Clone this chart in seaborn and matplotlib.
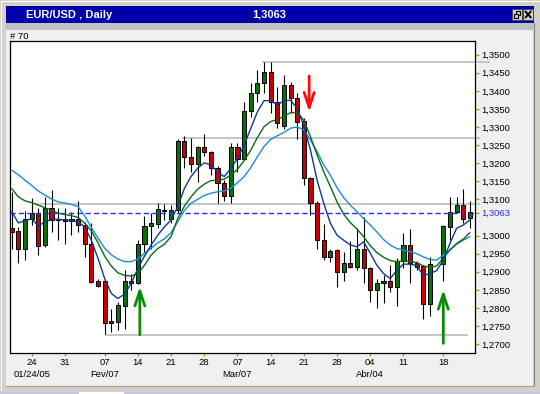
import numpy as np
import pandas as pd
import matplotlib
matplotlib.use("Agg")
import matplotlib.pyplot as plt
import seaborn as sns
from matplotlib.patches import Rectangle
from matplotlib.lines import Line2D

# ---------------- data ----------------
nan = np.nan
opens = np.array([1.3020, 1.3012, 1.2962, 1.3047, 1.3063, 1.2975, 1.3075, 1.3043, 1.3047, 1.3040,
                  1.3047, 1.3029, 1.2976, 1.2874, 1.2874, 1.2757, 1.2762, 1.2806, 1.2874, 1.2868,
                  1.2976, 1.3026, 1.3031, 1.3069, 1.3047, 1.3070, 1.3261, 1.3216, 1.3197, 1.3244,
                  1.3230, 1.3188, 1.3144, 1.3109, 1.3244, 1.3213, 1.3344, 1.3393, 1.3421, 1.3451,
                  1.3368, 1.3303, 1.3416, 1.3379, 1.3317, 1.3158, 1.3089, 1.2987, 1.2940, 1.2960,
                  1.2898, 1.2923, 1.2914, 1.2964, 1.2909, 1.2849, 1.2870, 1.2875, 1.2857, 1.2929,
                  1.2974, 1.2925, 1.2916, 1.2812, nan, 1.2920, 1.3024, 1.3064, 1.3084, 1.3049])
highs = np.array([1.3121, 1.3024, 1.3068, 1.3103, 1.3075, 1.3107, 1.3126, 1.3075, 1.3075, 1.3066,
                  1.3095, 1.3038, 1.3035, 1.2881, 1.2877, 1.2798, 1.2817, 1.2906, 1.2895, 1.2989,
                  1.3054, 1.3063, 1.3089, 1.3086, 1.3084, 1.3266, 1.3275, 1.3271, 1.3247, 1.3280,
                  1.3234, 1.3192, 1.3153, 1.3255, 1.3255, 1.3370, 1.3423, 1.3458, 1.3481, 1.3481,
                  1.3412, 1.3444, 1.3425, 1.3393, 1.3324, 1.3163, 1.3095, 1.3031, 1.2964, 1.2964,
                  1.2955, 1.2985, 1.3020, 1.3052, 1.2914, 1.2881, 1.2891, 1.2918, 1.2937, 1.3006,
                  1.3018, 1.2930, 1.2918, 1.2941, nan, 1.3029, 1.3107, 1.3107, 1.3129, 1.3095])
lows = np.array([1.2964, 1.2923, 1.2933, 1.3029, 1.2946, 1.2967, 1.3011, 1.2987, 1.2976, 1.3001,
                 1.3011, 1.2941, 1.2868, 1.2857, 1.2729, 1.2734, 1.2739, 1.2743, 1.2849, 1.2866,
                 1.2955, 1.2964, 1.3020, 1.3043, 1.3034, 1.3061, 1.3186, 1.3175, 1.3147, 1.3221,
                 1.3167, 1.3089, 1.3096, 1.3089, 1.3176, 1.3211, 1.3329, 1.3370, 1.3393, 1.3338,
                 1.3296, 1.3294, 1.3340, 1.3266, 1.3140, 1.3057, 1.2962, 1.2932, 1.2928, 1.2858,
                 1.2875, 1.2911, 1.2906, 1.2870, 1.2817, 1.2801, 1.2814, 1.2845, 1.2806, 1.2909,
                 1.2868, 1.2904, 1.2768, 1.2777, nan, 1.2875, 1.2989, 1.3061, 1.3035, 1.3022])
closes = np.array([1.3011, 1.2962, 1.3047, 1.3063, 1.2971, 1.3075, 1.3043, 1.3047, 1.3040, 1.3047,
                   1.3029, 1.2976, 1.2872, 1.2861, 1.2757, 1.2763, 1.2808, 1.2874, 1.2868, 1.2976,
                   1.3026, 1.3034, 1.3073, 1.3072, 1.3070, 1.3261, 1.3216, 1.3197, 1.3244, 1.3230,
                   1.3188, 1.3144, 1.3109, 1.3244, 1.3213, 1.3344, 1.3393, 1.3421, 1.3451, 1.3368,
                   1.3312, 1.3416, 1.3379, 1.3315, 1.3158, 1.3089, 1.2987, 1.2940, 1.2958, 1.2898,
                   1.2923, 1.2914, 1.2964, 1.2909, 1.2849, 1.2870, 1.2875, 1.2857, 1.2929, 1.2974,
                   1.2923, 1.2914, 1.2812, 1.2920, nan, 1.3026, 1.3064, 1.3084, 1.3047, 1.3064])

ma_slow = [1.3181, 1.3168, 1.3153, 1.3139, 1.3123, 1.3112, 1.3101, 1.3093, 1.3090, 1.3086,
           1.3080, 1.3054, 1.3022, 1.2993, 1.2965, 1.2947, 1.2935, 1.2928, 1.2928, 1.2935,
           1.2951, 1.2965, 1.2980, 1.2991, 1.3008, 1.3038, 1.3069, 1.3089, 1.3100, 1.3111,
           1.3117, 1.3121, 1.3123, 1.3131, 1.3146, 1.3163, 1.3188, 1.3218, 1.3246, 1.3266,
           1.3276, 1.3285, 1.3297, 1.3300, 1.3292, 1.3264, 1.3232, 1.3195, 1.3167, 1.3132,
           1.3105, 1.3084, 1.3066, 1.3047, 1.3029, 1.3010, 1.2989, 1.2974, 1.2964, 1.2960,
           1.2955, 1.2950, 1.2941, 1.2934, 1.2932, 1.2946, 1.2960, 1.2976, 1.2987, 1.2997]
ma_mid = [1.3130, 1.3107, 1.3096, 1.3091, 1.3084, 1.3077, 1.3070, 1.3062, 1.3058, 1.3055,
          1.3050, 1.3034, 1.3013, 1.2980, 1.2943, 1.2916, 1.2897, 1.2890, 1.2888, 1.2895,
          1.2918, 1.2946, 1.2964, 1.2976, 1.2997, 1.3047, 1.3081, 1.3107, 1.3128, 1.3142,
          1.3152, 1.3153, 1.3156, 1.3167, 1.3183, 1.3207, 1.3236, 1.3271, 1.3301, 1.3315,
          1.3321, 1.3330, 1.3340, 1.3340, 1.3319, 1.3273, 1.3223, 1.3176, 1.3135, 1.3093,
          1.3059, 1.3036, 1.3018, 1.2997, 1.2972, 1.2953, 1.2940, 1.2931, 1.2928, 1.2930,
          1.2929, 1.2925, 1.2916, 1.2912, 1.2916, 1.2938, 1.2960, 1.2978, 1.2990, 1.3008]
ma_fast = [1.3066, 1.3035, 1.3041, 1.3047, 1.3026, 1.3038, 1.3045, 1.3045, 1.3043, 1.3041,
           1.3038, 1.3024, 1.2987, 1.2937, 1.2881, 1.2840, 1.2826, 1.2838, 1.2868, 1.2909,
           1.2943, 1.2974, 1.3001, 1.3024, 1.3043, 1.3080, 1.3130, 1.3163, 1.3186, 1.3201,
           1.3195, 1.3176, 1.3163, 1.3186, 1.3213, 1.3250, 1.3296, 1.3342, 1.3373, 1.3373,
           1.3361, 1.3373, 1.3374, 1.3352, 1.3303, 1.3236, 1.3153, 1.3089, 1.3034, 1.3001,
           1.2987, 1.2974, 1.2969, 1.2983, 1.2951, 1.2918, 1.2895, 1.2881, 1.2904, 1.2921,
           1.2921, 1.2917, 1.2890, 1.2895, 1.2903, 1.2932, 1.2978, 1.3020, 1.3029, 1.3043]

last_price = 1.3063
last_label = "1,3063"
level_prices = [1.3481, 1.3270, 1.3086, 1.2726]
level_starts = [37.7, 25.6, 3.5, 14.0]
level_ends = [72.1, 70.6, 70.5, 68.7]

up_arrow_bars = [19.3, 65.0]
up_arrow_tips = [1.2859, 1.2850]
up_arrow_bases = [1.2726, 1.2702]
down_arrow_bars = [44.8]
down_arrow_tops = [1.3441]
down_arrow_tips = [1.3342]

tick_bars = [3, 8, 14, 19, 24, 29, 34, 39, 44, 49, 54, 59, 65]
tick_labels = ["24", "31", "07", "14", "21", "28", "07", "14", "21", "28", "04", "11", "18"]
month_bars = [3, 14, 34, 54]
month_labels = ["01/24/05", "Fev/07", "Mar/07", "Abr/04"]

ytick_vals = [1.3500, 1.3450, 1.3400, 1.3350, 1.3300, 1.3250, 1.3200, 1.3150, 1.3100,
              1.3063, 1.3000, 1.2950, 1.2900, 1.2850, 1.2800, 1.2750, 1.2700]
ytick_labels = ["1,3500", "1,3450", "1,3400", "1,3350", "1,3300", "1,3250", "1,3200",
                "1,3150", "1,3100", "1,3063", "1,3000", "1,2950", "1,2900", "1,2850",
                "1,2800", "1,2750", "1,2700"]

title_left = "EUR/USD , Daily"
title_mid = "1,3063"
count_label = "# 70"

# ---------------- style ----------------
sns.set_theme(style="white")
plt.rcParams['font.family'] = ['Liberation Sans', 'DejaVu Sans']

W, H = 540, 394
fig = plt.figure(figsize=(W / 100, H / 100), dpi=100, facecolor='#D4D0C8')


def fx(x):
    return x / W


def fy(y):
    return 1 - y / H


def frect(x0, y0, x1, y1, z=-5, **kw):
    r = Rectangle((fx(x0), fy(y1)), fx(x1) - fx(x0), fy(y0) - fy(y1),
                  transform=fig.transFigure, zorder=z, **kw)
    fig.add_artist(r)


def fline(xs, ys, z=-4, **kw):
    fig.add_artist(Line2D([fx(v) for v in xs], [fy(v) for v in ys],
                          transform=fig.transFigure, zorder=z, **kw))


# window chrome
frect(0, 0, 540, 394, z=-10, facecolor='#D4D0C8', edgecolor='none')
fline([0.5, 539.5], [1, 1], color='white', lw=0.8)
fline([1, 1], [1, 390], color='white', lw=0.8)
frect(5.9, 6.2, 534.4, 22.7, facecolor='#0000AA', edgecolor='none')
frect(6, 22.7, 533.3, 30.3, facecolor='#C0C0C0', edgecolor='none')
frect(6, 30.3, 533.3, 385.5, facecolor='#F0F0F0', edgecolor='none')
fline([533.5, 533.5], [22.7, 386], color='#808080', lw=0.8)
fline([6, 533.5], [386, 386], color='#A0A0A0', lw=0.8)
frect(0, 391.5, 540, 394, facecolor='#C6C6E0', edgecolor='none')
frect(79, 391.5, 124, 394, facecolor='white', edgecolor='none', z=-4)

# title bar buttons
frect(512, 9.3, 521.5, 19.6, z=-3, facecolor='#D4D0C8', edgecolor='#404040', linewidth=0.6)
frect(523.4, 9.3, 533, 19.6, z=-3, facecolor='#D4D0C8', edgecolor='#404040', linewidth=0.6)
frect(515.5, 11.3, 520, 15.3, z=-2, facecolor='none', edgecolor='black', linewidth=0.8)
frect(513.5, 13.8, 518, 17.8, z=-1, facecolor='#D4D0C8', edgecolor='black', linewidth=0.8)
fline([525.5, 530.8], [11.5, 17.5], z=-1, color='black', lw=1.4)
fline([525.5, 530.8], [17.5, 11.5], z=-1, color='black', lw=1.4)

fig.text(fx(25.8), fy(14.8), title_left, color='white', fontsize=8, fontweight='bold',
         va='center', ha='left')
fig.text(fx(269.6), fy(14.8), title_mid, color='white', fontsize=8, fontweight='bold',
         va='center', ha='center')
fig.text(fx(10.5), fy(36.8), count_label, color='black', fontsize=6.8, va='center', ha='left')

# ---------------- chart ----------------
ax = fig.add_axes([fx(10.3), fy(353.4), fx(475.3) - fx(10.3), fy(41) - fy(353.4)])
ax.set_facecolor('white')

bars = np.arange(len(opens))

# support / resistance levels
ax.hlines(level_prices, level_starts, level_ends, color='#C0C0C0', lw=1.3,
          zorder=1, clip_on=False)

# candles
valid = ~np.isnan(opens)
o, h, l, c, b = opens[valid], highs[valid], lows[valid], closes[valid], bars[valid]
up = c >= o
ax.vlines(b, l, h, color='black', lw=0.8, zorder=3)
ax.bar(b, np.maximum(np.abs(c - o), 0.00007), bottom=np.minimum(o, c), width=0.62,
       color=np.where(up, '#0A6E0A', '#C80000'), edgecolor='black', linewidth=0.7, zorder=4)

# last price dashed line
ax.axhline(last_price, color='#2A2AFF', lw=1.0, dashes=(3.8, 2.2), zorder=4.5)

# moving averages via seaborn
df_ma = pd.DataFrame({
    'bar': np.tile(bars, 3),
    'price': np.concatenate([ma_slow, ma_mid, ma_fast]),
    'ma': np.repeat(['slow', 'mid', 'fast'], len(bars)),
})
ma_colors = {'slow': '#1C8CD0', 'mid': '#0B6A12', 'fast': '#0C3C8C'}
sns.lineplot(data=df_ma, x='bar', y='price', hue='ma', palette=ma_colors, linewidth=1.0,
             legend=False, ax=ax, errorbar=None, sort=False, zorder=5)

# arrows
for xb, tip, base in zip(up_arrow_bars, up_arrow_tips, up_arrow_bases):
    ax.annotate('', xy=(xb, tip), xytext=(xb, base), annotation_clip=False,
                arrowprops=dict(arrowstyle='->,head_length=0.9,head_width=0.3',
                                color='#0A8A0A', lw=2.0, shrinkA=0, shrinkB=0), zorder=6)
for xb, top, tip in zip(down_arrow_bars, down_arrow_tops, down_arrow_tips):
    ax.annotate('', xy=(xb, tip), xytext=(xb, top), annotation_clip=False,
                arrowprops=dict(arrowstyle='->,head_length=0.9,head_width=0.3',
                                color='#FF0A0A', lw=2.0, shrinkA=0, shrinkB=0), zorder=6)

ax.set_xlim(-0.21, 69.82)
ax.set_ylim(1.26742, 1.35379)
ax.set_xlabel('')
ax.set_ylabel('')

# axes styling
for s in ax.spines.values():
    s.set_visible(True)
    s.set_color('black')
    s.set_linewidth(0.9)

ax.yaxis.tick_right()
ax.set_yticks(ytick_vals, ytick_labels)
ax.set_xticks(tick_bars, tick_labels)
ax.tick_params(axis='y', which='both', direction='out', length=3, width=1,
               color='#8CB400', pad=1.2, labelsize=6.8, labelcolor='black',
               right=True, left=False, labelright=True, labelleft=False)
ax.tick_params(axis='x', which='both', direction='out', length=2.3, width=1,
               color='#8CB400', pad=0.8, labelsize=6.8, labelcolor='black',
               bottom=True, top=False)
for lab in ax.get_yticklabels():
    if lab.get_text() == last_label:
        lab.set_color('#2A2AFF')

for xb, txt in zip(month_bars, month_labels):
    ax.text(xb, -0.0669, txt, transform=ax.get_xaxis_transform(), ha='center', va='center',
            fontsize=6.8, color='black', clip_on=False)

fig.savefig('out.png', dpi=100, facecolor=fig.get_facecolor())
